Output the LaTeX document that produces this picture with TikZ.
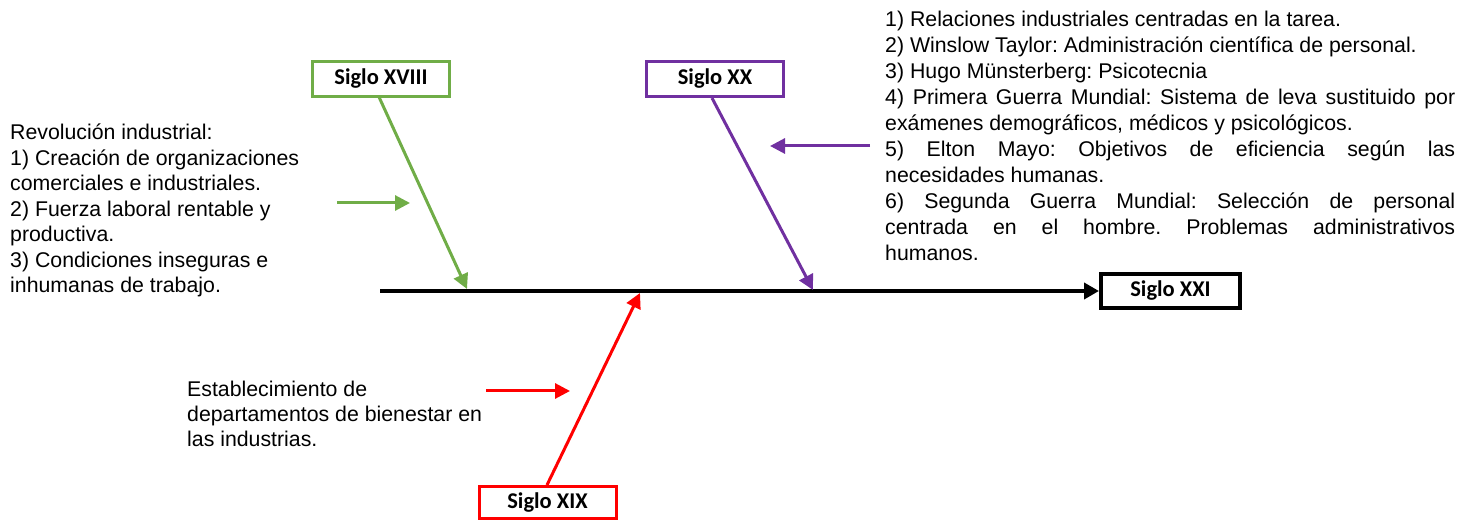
\documentclass[tikz,border=0pt]{standalone}
\usepackage{fontspec}
\setmainfont{Liberation Sans}
\newfontfamily\boxfont{Carlito}
\usetikzlibrary{arrows.meta}
\definecolor{cgreen}{HTML}{70AD47}
\definecolor{cpurple}{HTML}{7030A0}
\definecolor{cred}{HTML}{FF0000}
\frenchspacing
\begin{document}
\begin{tikzpicture}[x=1pt,y=1pt,
  sbox/.style={draw=#1, line width=3pt, minimum width=137pt, minimum height=35pt, inner sep=0pt,
    font=\boxfont\bfseries\fontsize{22.5}{26}\selectfont},
  txt/.style={anchor=base west, inner sep=0pt},
  arr/.style={draw=#1, line width=3pt, -{Triangle[length=15pt,width=15pt]}}]
\useasboundingbox (0,0) rectangle (1471,524);

% boxes
\node[sbox=cgreen]  (xviii) at (381,445) {Siglo XVIII};
\node[sbox=cpurple] (xx)    at (715,445) {Siglo XX};
\node[sbox=black, line width=4pt, minimum width=139pt, minimum height=34pt] (xxi) at (1170.5,233) {Siglo XXI};
\node[sbox=cred, minimum height=32pt] (xix) at (547.5,21.5) {Siglo XIX};

% spine
\coordinate (s0) at (380,233);
\draw[line width=4pt, -{Triangle[length=15pt,width=16pt]}] (s0) -- (xxi.west);

% diagonals
\coordinate (g0) at (379,427);
\coordinate (g1) at (467,235);
\coordinate (p0) at (712,426);
\coordinate (p1) at (813,234);
\coordinate (r0) at (547,39);
\coordinate (r1) at (640,231);
\draw[arr=cgreen]  (g0) -- (g1);
\draw[arr=cpurple] (p0) -- (p1);
\draw[arr=cred]    (r0) -- (r1);

% short arrows
\coordinate (ga) at (337,321);
\coordinate (gb) at (410,321);
\coordinate (pa) at (870,378);
\coordinate (pb) at (770,378);
\coordinate (ra) at (486,133);
\coordinate (rb) at (570,133);
\draw[arr=cgreen]  (ga) -- (gb);
\draw[arr=cpurple] (pa) -- (pb);
\draw[arr=cred]    (ra) -- (rb);

% texts
\node[txt] (tl) at (10,384) {\fontsize{21.3}{25.5}\selectfont
\begin{minipage}[t]{320pt}
Revolución industrial:\\
1) Creación de organizaciones\\
comerciales e industriales.\\
2) Fuerza laboral rentable y\\
productiva.\\
3) Condiciones inseguras e\\
inhumanas de trabajo.
\end{minipage}};

\node[txt] (tb) at (187,127) {\fontsize{21.3}{25}\selectfont
\begin{minipage}[t]{320pt}
Establecimiento de\\
departamentos de bienestar en\\
las industrias.
\end{minipage}};

\node[txt] (tr) at (885,497) {\fontsize{21.3}{25.9}\selectfont
\begin{minipage}[t]{570pt}
1) Relaciones industriales centradas en la tarea.\\
2) Winslow Taylor: Administración científica de personal.\\
3) Hugo Münsterberg: Psicotecnia\\
\makebox[570pt][s]{4) Primera Guerra Mundial: Sistema de leva sustituido por}\\
exámenes demográficos, médicos y psicológicos.\\
\makebox[570pt][s]{5) Elton Mayo: Objetivos de eficiencia según las}\\
necesidades humanas.\\
\makebox[570pt][s]{6) Segunda Guerra Mundial: Selección de personal}\\
\makebox[570pt][s]{centrada en el hombre. Problemas administrativos}\\
humanos.
\end{minipage}};
\end{tikzpicture}
\end{document}
